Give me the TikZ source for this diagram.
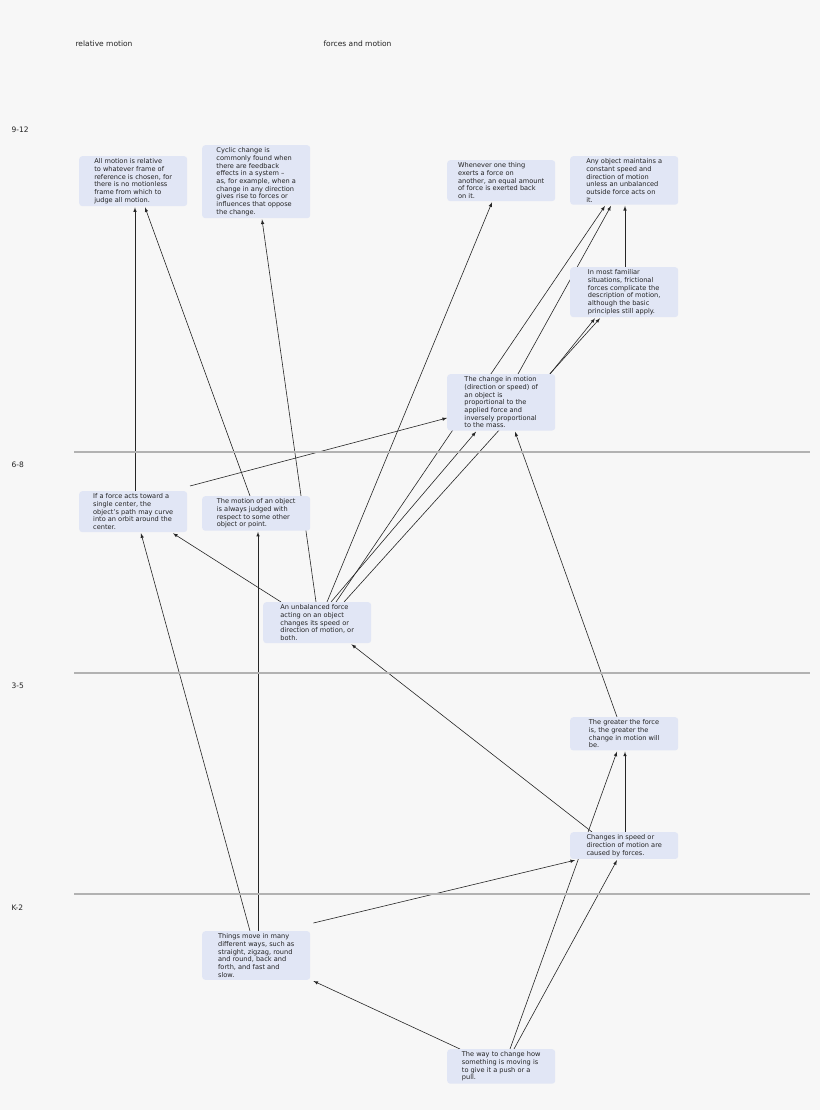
\documentclass[tikz,border=0pt]{standalone}
\usepackage{fontspec}
\setmainfont{DejaVu Sans}
\usetikzlibrary{backgrounds}
\definecolor{bg}{HTML}{F7F7F7}
\definecolor{boxc}{HTML}{E1E6F5}
\definecolor{tx}{HTML}{222222}
\tikzset{
 box/.style={fill=boxc,rounded corners=3pt,anchor=north west,inner xsep=3.5pt,inner ysep=2.5pt,
   minimum width=108pt,align=left,font=\fontsize{6.6}{7.7}\selectfont,text=tx},
 edge/.style={draw=black!85,line width=0.6pt,-latex},
 band/.style={draw=black!30,line width=2.5pt},
 lab/.style={anchor=west,font=\fontsize{7.5}{9}\selectfont,text=tx}
}
\begin{document}
\begin{tikzpicture}[x=1pt,y=-1pt]
\useasboundingbox (0,0) rectangle (820,1110);
\node[lab] (h1) at (72,44) {relative motion};
\node[lab] (h2) at (320,44) {forces and motion};
\node[lab] (g1) at (8,130) {9-12};
\node[lab] (g2) at (8,465) {6-8};
\node[lab] (g3) at (8,686) {3-5};
\node[lab] (g4) at (8,908) {K-2};
\coordinate (l1a) at (74,452); \coordinate (l1b) at (810,452);
\coordinate (l2a) at (74,673); \coordinate (l2b) at (810,673);
\coordinate (l3a) at (74,894); \coordinate (l3b) at (810,894);
\draw[band] (l1a)--(l1b); \draw[band] (l2a)--(l2b); \draw[band] (l3a)--(l3b);

\node[box] (A) at (79,156) {All motion is relative\\to whatever frame of\\reference is chosen, for\\there is no motionless\\frame from which to\\judge all motion.};
\node[box] (B) at (202,145) {Cyclic change is\\commonly found when\\there are feedback\\effects in a system --\\as, for example, when a\\change in any direction\\gives rise to forces or\\influences that oppose\\the change.};
\node[box] (C) at (447,160) {Whenever one thing\\exerts a force on\\another, an equal amount\\of force is exerted back\\on it.};
\node[box] (D) at (570,156) {Any object maintains a\\constant speed and\\direction of motion\\unless an unbalanced\\outside force acts on\\it.};
\node[box] (E) at (570,267) {In most familiar\\situations, frictional\\forces complicate the\\description of motion,\\although the basic\\principles still apply.};
\node[box] (F) at (447,374) {The change in motion\\(direction or speed) of\\an object is\\proportional to the\\applied force and\\inversely proportional\\to the mass.};
\node[box] (G) at (79,491) {If a force acts toward a\\single center, the\\object's path may curve\\into an orbit around the\\center.};
\node[box] (H) at (202,496) {The motion of an object\\is always judged with\\respect to some other\\object or point.};
\node[box] (I) at (263,602) {An unbalanced force\\acting on an object\\changes its speed or\\direction of motion, or\\both.};
\node[box] (J) at (570,717) {The greater the force\\is, the greater the\\change in motion will\\be.};
\node[box] (K) at (570,832) {Changes in speed or\\direction of motion are\\caused by forces.};
\node[box] (L) at (202,931) {Things move in many\\different ways, such as\\straight, zigzag, round\\and round, back and\\forth, and fast and\\slow.};
\node[box] (M) at (447,1049) {The way to change how\\something is moving is\\to give it a push or a\\pull.};

\begin{scope}[on background layer]
\fill[bg] (0,0) rectangle (820,1110);
\draw[edge] ([xshift=56pt]G.north west) -- ([xshift=56pt,yshift=-1pt]A.south west);
\draw[edge] ([xshift=48pt]H.north west) -- ([xshift=66pt,yshift=-1pt]A.south west);
\draw[edge] ([xshift=53pt]I.north west) -- ([xshift=60pt,yshift=-1pt]B.south west);
\draw[edge] ([xshift=111pt,yshift=5pt]G.north west) -- ([yshift=-44pt]F.north west);
\draw[edge] ([xshift=64pt]I.north west) -- ([xshift=45pt,yshift=-1pt]C.south west);
\draw[edge] ([xshift=68pt]I.north west) -- ([xshift=29pt,yshift=-1pt]F.south west);
\draw[edge] ([xshift=73pt]I.north west) -- ([xshift=35pt,yshift=-1pt]D.south west);
\draw[edge] ([xshift=81pt]I.north west) -- ([xshift=30pt,yshift=-1pt]E.south west);
\draw[edge] ([xshift=71pt]F.north west) -- ([xshift=41pt,yshift=-1pt]D.south west);
\draw[edge] ([xshift=103pt]F.north west) -- ([xshift=25pt,yshift=-1pt]E.south west);
\draw[edge] ([xshift=55pt]E.north west) -- ([xshift=55pt,yshift=-1pt]D.south west);
\draw[edge] ([xshift=18pt]I.north west) -- ([xshift=94pt,yshift=-1pt]G.south west);
\draw[edge] ([xshift=48pt]L.north west) -- ([xshift=62pt,yshift=-1pt]G.south west);
\draw[edge] ([xshift=56pt]L.north west) -- ([xshift=56pt,yshift=-1pt]H.south west);
\draw[edge] ([xshift=22pt]K.north west) -- ([xshift=-20pt,yshift=-1pt]I.south east);
\draw[edge] ([xshift=55pt]K.north west) -- ([xshift=55pt,yshift=-1pt]J.south west);
\draw[edge] ([xshift=47pt]J.north west) -- ([xshift=68pt,yshift=-1pt]F.south west);
\draw[edge] ([xshift=3pt,yshift=8pt]L.north east) -- ([xshift=5pt,yshift=-1pt]K.south west);
\draw[edge] ([xshift=63pt]M.north west) -- ([xshift=47pt,yshift=-1pt]J.south west);
\draw[edge] ([xshift=67pt]M.north west) -- ([xshift=47pt,yshift=-1pt]K.south west);
\draw[edge] ([xshift=13pt]M.north west) -- ([xshift=3pt,yshift=-1pt]L.south east);
\end{scope}
\end{tikzpicture}
\end{document}
